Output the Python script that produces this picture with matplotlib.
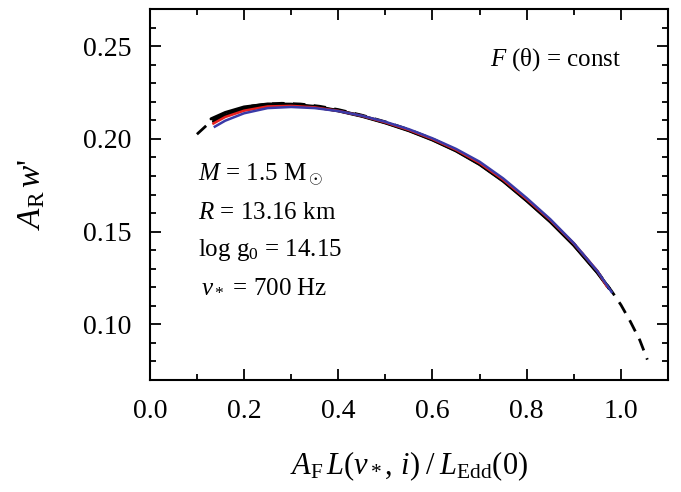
import matplotlib
matplotlib.use("Agg")
import matplotlib.pyplot as plt
from matplotlib.ticker import MultipleLocator, FormatStrFormatter

plt.rcParams['font.family'] = ['Liberation Serif', 'DejaVu Serif']
plt.rcParams['mathtext.fontset'] = 'custom'
plt.rcParams['mathtext.rm'] = 'Liberation Serif'
plt.rcParams['mathtext.it'] = 'Liberation Serif:italic'
plt.rcParams['mathtext.bf'] = 'Liberation Serif:bold'

# Dashed black curve
dash_x = [0.10, 0.13, 0.17, 0.21, 0.25, 0.28, 0.32, 0.36, 0.40, 0.45, 0.50, 0.55,
          0.60, 0.65, 0.70, 0.75, 0.80, 0.85, 0.90, 0.95, 0.98, 1.00, 1.02, 1.04, 1.056]
dash_y = [0.2025, 0.2095, 0.2145, 0.2175, 0.2188, 0.2192, 0.2188, 0.2176, 0.2158, 0.2128,
          0.2092, 0.2050, 0.2000, 0.1940, 0.1866, 0.1776, 0.1670, 0.1560, 0.1435, 0.1285,
          0.1180, 0.1105, 0.1015, 0.0915, 0.0810]

# Solid curves
common_x = [0.45, 0.50, 0.55, 0.60, 0.65, 0.70, 0.75, 0.80, 0.85, 0.90, 0.95]
black1_x = [0.13, 0.16, 0.20, 0.25, 0.30, 0.35, 0.40] + common_x + [0.975]
black1_y = [0.2108, 0.2142, 0.2172, 0.2188, 0.2187, 0.2175, 0.2153, 0.2124, 0.2088, 0.2046,
            0.1996, 0.1937, 0.1864, 0.1774, 0.1668, 0.1555, 0.1428, 0.1280, 0.1195]
black2_x = [0.135, 0.16, 0.20, 0.25, 0.30, 0.35, 0.40] + common_x + [0.975]
black2_y = [0.2094, 0.2127, 0.2161, 0.2180, 0.2182, 0.2172, 0.2151, 0.2122, 0.2086, 0.2044,
            0.1994, 0.1935, 0.1862, 0.1772, 0.1666, 0.1553, 0.1426, 0.1278, 0.1193]
red_x = [0.135, 0.16, 0.20, 0.25, 0.30, 0.35, 0.40] + common_x + [0.97]
red_y = [0.2083, 0.2118, 0.2152, 0.2175, 0.2178, 0.2170, 0.2151, 0.2124, 0.2089, 0.2048,
         0.1999, 0.1941, 0.1870, 0.1780, 0.1675, 0.1563, 0.1436, 0.1288, 0.1205]
blue_x = [0.138, 0.16, 0.20, 0.25, 0.30, 0.35, 0.40] + common_x + [0.98]
blue_y = [0.2066, 0.2098, 0.2138, 0.2166, 0.2172, 0.2166, 0.2150, 0.2125, 0.2092, 0.2052,
          0.2003, 0.1946, 0.1877, 0.1787, 0.1681, 0.1567, 0.1438, 0.1287, 0.1175]

fig = plt.figure(figsize=(6.81, 4.92), dpi=100)
ax = fig.add_axes([0.220, 0.2276, 0.761, 0.754])

ax.plot(dash_x, dash_y, color='black', lw=2.0, ls=(0, (4.5, 3)))
ax.plot(black1_x, black1_y, color='black', lw=2.2, solid_capstyle='round')
ax.plot(black2_x, black2_y, color='black', lw=2.2, solid_capstyle='round')
ax.plot(red_x, red_y, color='#e8201e', lw=1.8)
ax.plot(blue_x, blue_y, color='#3a3aa8', lw=1.8)

ax.set_xlim(0.0, 1.1)
ax.set_ylim(0.07, 0.27)
ax.xaxis.set_major_locator(MultipleLocator(0.2))
ax.xaxis.set_minor_locator(MultipleLocator(0.1))
ax.yaxis.set_major_locator(MultipleLocator(0.05))
ax.yaxis.set_minor_locator(MultipleLocator(0.01))
ax.xaxis.set_major_formatter(FormatStrFormatter('%.1f'))
ax.yaxis.set_major_formatter(FormatStrFormatter('%.2f'))

ax.tick_params(which='both', direction='in', top=True, right=True, width=1.3)
ax.tick_params(which='major', length=8, labelsize=20)
ax.tick_params(axis='x', which='major', pad=14)
ax.tick_params(axis='y', which='major', pad=13)
ax.tick_params(which='minor', length=4.5)
for s in ax.spines.values():
    s.set_linewidth(1.5)

ax.set_xlabel(r'$A_\mathrm{F}\,L(\nu_*,\, i)\;/\;L_\mathrm{Edd}(0)$', fontsize=22, labelpad=18)
ax.set_ylabel(r"$A_\mathrm{R}\,w$'", fontsize=24, labelpad=26)

fs = 18
ax.text(0.102, 0.1773, r'$M$ = 1.5 M$_\odot$', fontsize=fs, va='baseline')
ax.text(0.102, 0.1568, r'$R$ = 13.16 km', fontsize=fs, va='baseline')
ax.text(0.102, 0.1368, r'log g$_0$ = 14.15', fontsize=fs, va='baseline')
ax.text(0.108, 0.1174, r'$\nu_*$ = 700 Hz', fontsize=fs, va='baseline')
ax.text(1.002, 0.2393, r'$F$ (θ) = const', fontsize=fs, va='baseline', ha='right')

fig.savefig('out.png', dpi=100)
